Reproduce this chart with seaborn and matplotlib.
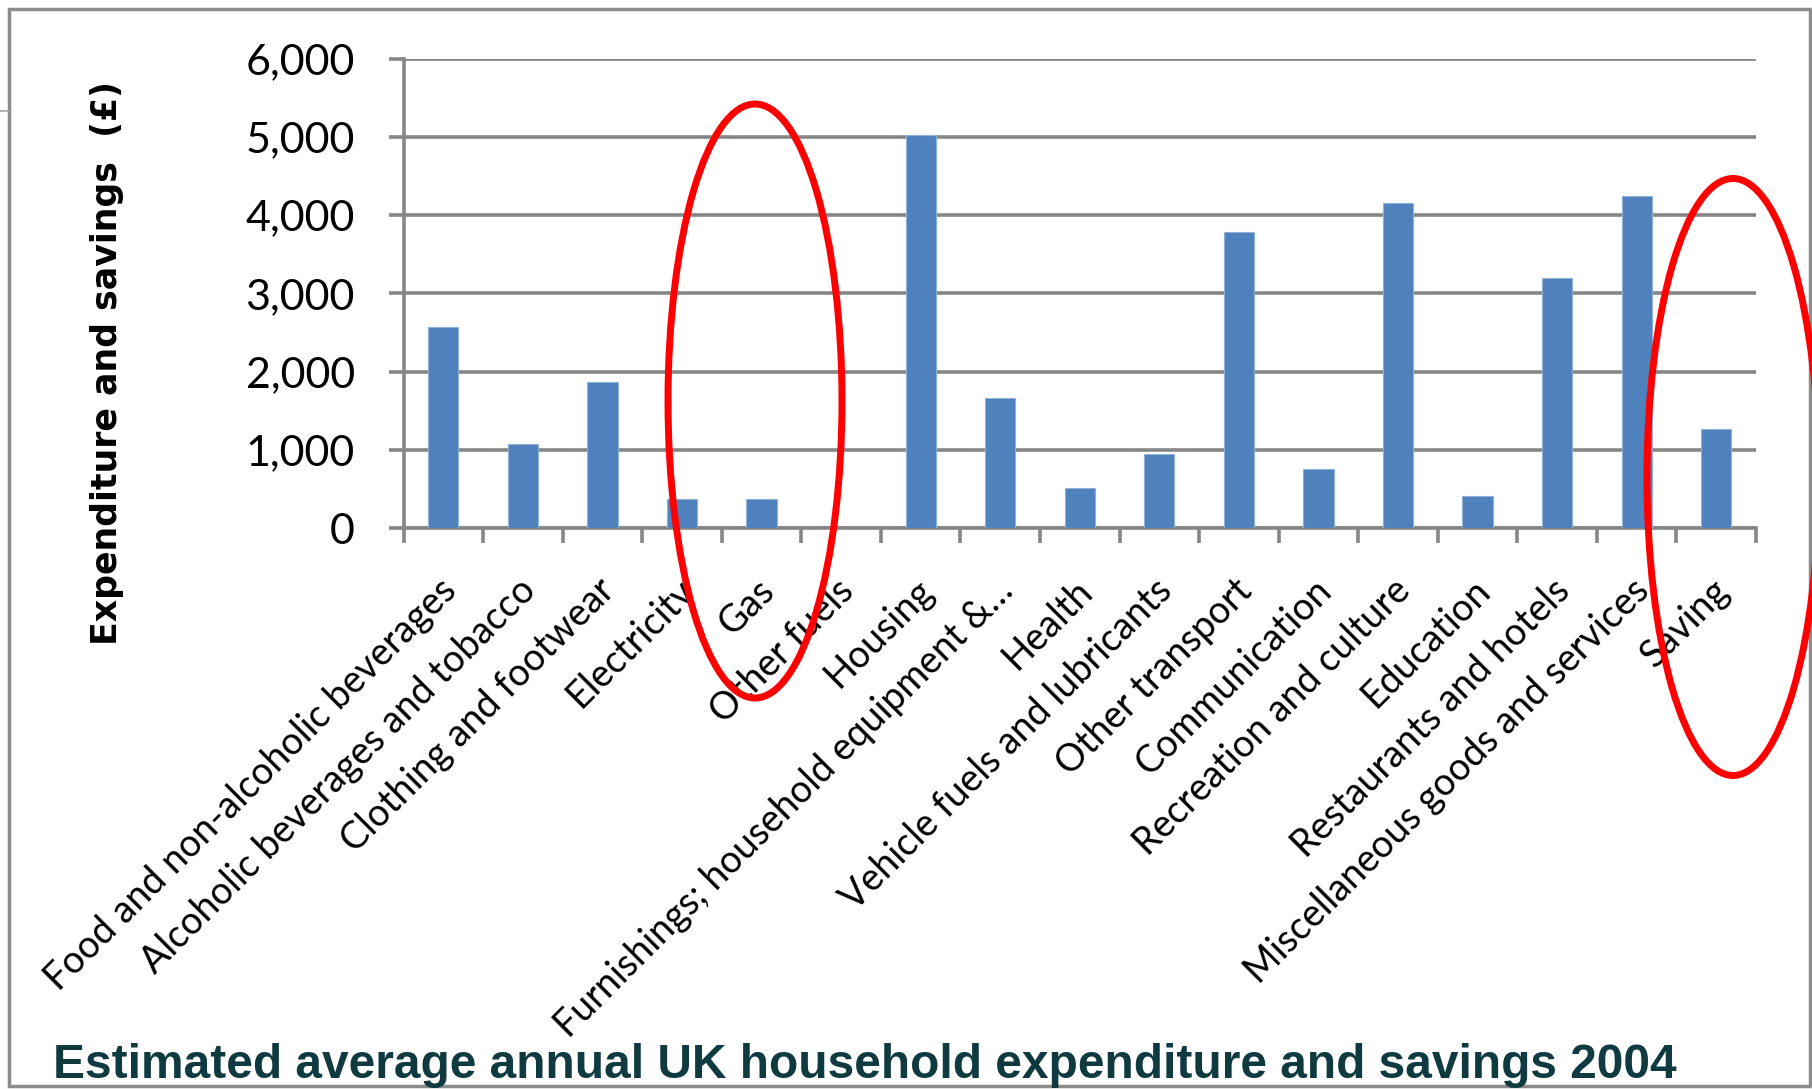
import matplotlib
matplotlib.use("Agg")
import matplotlib.pyplot as plt
import matplotlib.transforms as mtransforms
from matplotlib.patches import Ellipse, Rectangle
from matplotlib.lines import Line2D
from matplotlib.ticker import FuncFormatter
import numpy as np
import pandas as pd
import seaborn as sns

categories = [
    "Food and non-alcoholic beverages",
    "Alcoholic beverages and tobacco",
    "Clothing and footwear",
    "Electricity",
    "Gas",
    "Other fuels",
    "Housing",
    "Furnishings; household equipment &\u2026",
    "Health",
    "Vehicle fuels and lubricants",
    "Other transport",
    "Communication",
    "Recreation and culture",
    "Education",
    "Restaurants and hotels",
    "Miscellaneous goods and services",
    "Saving",
]
amounts = [2570, 1080, 1860, 365, 365, 0, 5020, 1660, 510, 940,
           3780, 750, 4150, 410, 3190, 4250, 1270]
y_ticks = [0, 1000, 2000, 3000, 4000, 5000, 6000]
title = "Estimated average annual UK household expenditure and savings 2004"
y_label = "Expenditure and savings  (\u00a3)"

df = pd.DataFrame({"category": categories, "amount": amounts})

sns.set_theme(style="white")
plt.rcParams["font.family"] = ["Lato", "DejaVu Sans"]

W, H, DPI = 1812, 1089, 100
fig = plt.figure(figsize=(W / DPI, H / DPI), dpi=DPI)
ax = fig.add_axes([403.6 / W, 1 - 528 / H, (1756 - 403.6) / W, (528 - 58.6) / H])

grey = "#868686"
sns.barplot(data=df, x="category", y="amount", color="#4F81BD", width=0.38,
            edgecolor="#8FB0D8", linewidth=0.8, saturation=1, ax=ax, zorder=3)

n = len(categories)
ax.set_xlim(-0.5, n - 0.5)
ax.set_ylim(0, 6000)
ax.set_yticks(y_ticks)
ax.yaxis.set_major_formatter(FuncFormatter(lambda v, p: f"{int(v):,}"))
ax.grid(axis="y", color=grey, linewidth=2.6, zorder=0)
ax.set_axisbelow(True)
ax.set_xlabel("")
ax.set_ylabel("")

for side in ["top", "right"]:
    ax.spines[side].set_visible(False)
for side in ["left", "bottom"]:
    ax.spines[side].set_color(grey)
    ax.spines[side].set_linewidth(2.6)

ax.tick_params(axis="y", length=11, width=2.6, color=grey, pad=24,
               labelsize=31, left=True, labelcolor="black")
ax.set_xticks(np.arange(-0.5, n, 1), minor=True)
ax.tick_params(axis="x", which="minor", length=10.5, width=2.6, color=grey,
               bottom=True)
ax.tick_params(axis="x", which="major", length=0, pad=41, labelsize=27,
               labelcolor="black")
ax.set_xticks(range(n))
ax.set_xticklabels(categories)
offset = mtransforms.ScaledTranslation(5 / 72, 0, fig.dpi_scale_trans)
for lbl in ax.get_xticklabels():
    lbl.set_rotation(45)
    lbl.set_rotation_mode("anchor")
    lbl.set_ha("right")
    lbl.set_va("center")
    lbl.set_transform(lbl.get_transform() + offset)

fig.text(107 / W, 1 - 363 / H, y_label, rotation=90, ha="center", va="center",
         fontsize=25, fontweight="bold", family="DejaVu Sans", color="black")

fig.text(53 / W, 1 - 1078 / H, title, ha="left", va="baseline", fontsize=34.5,
         fontweight="bold", family="Liberation Sans", color="#0E3A40")

# red highlight ellipses
for cx, cy, ew, eh in [(755, 401, 174, 594), (1733, 477, 172, 597)]:
    fig.patches.append(Ellipse((cx / W, 1 - cy / H), ew / W, eh / H,
                               transform=fig.transFigure, fill=False,
                               edgecolor="#FF0000", linewidth=5, zorder=10))

# slide frame
fig.patches.append(Rectangle((8.5 / W, 3 / H), (1810 - 8.5) / W, (1083 - 6) / H,
                             transform=fig.transFigure, fill=False,
                             edgecolor="#8C8C8C", linewidth=2.5, zorder=0))
fig.lines.append(Line2D([0, 8 / W], [1 - 111 / H, 1 - 111 / H],
                        transform=fig.transFigure, color="#B0B0B0", linewidth=1.5))

fig.savefig("out.png", dpi=DPI)
